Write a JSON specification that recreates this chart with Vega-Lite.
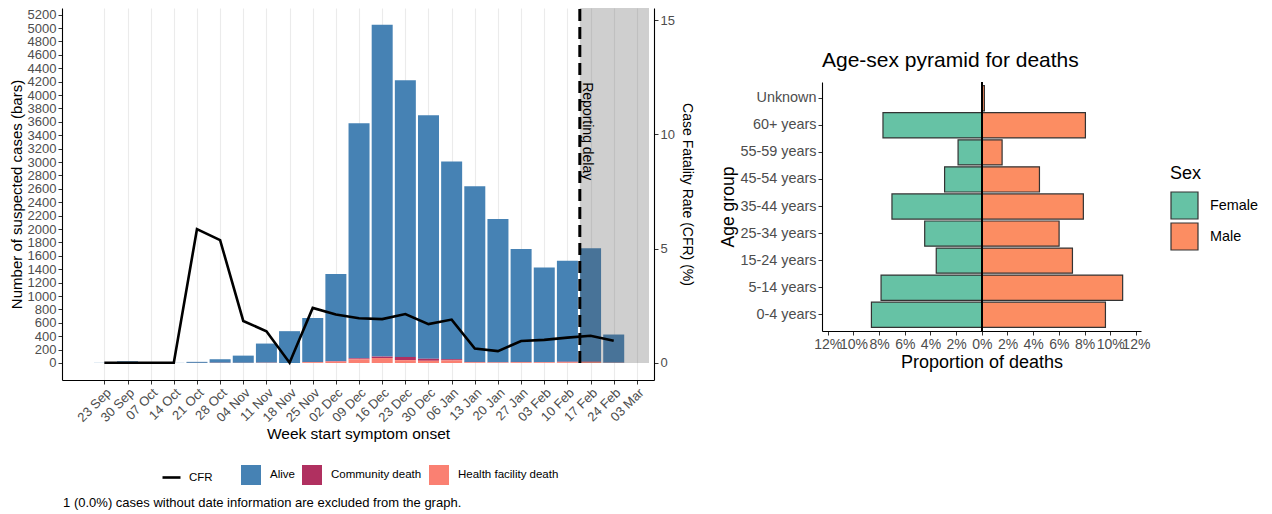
{
  "$schema": "https://vega.github.io/schema/vega-lite/v6.json",
  "padding": {"left": 9, "top": 6, "right": 5, "bottom": 3},
  "config": {
    "font": "Liberation Sans",
    "view": {"stroke": null},
    "axis": {"domainColor": "#000000", "domainWidth": 1.1, "tickColor": "#333333", "tickSize": 4, "labelColor": "#4d4d4d", "labelPadding": 2, "titleColor": "#000000", "titleFontWeight": "normal", "labelFlush": false, "labelOverlap": false, "grid": false},
    "legend": {"padding": 0, "labelColor": "#000000", "titleColor": "#000000", "titleFontWeight": "normal"}
  },
  "title": {"text": "1 (0.0%) cases without date information are excluded from the graph.", "orient": "bottom", "anchor": "start", "fontSize": 13, "fontWeight": "normal", "color": "#000000", "offset": 12, "dx": 54},
  "resolve": {"scale": {"color": "independent"}, "legend": {"color": "independent"}},
  "datasets": {
    "cases": [
      {"week": "2024-09-23", "outcome": "Alive", "n": 2},
      {"week": "2024-09-30", "outcome": "Alive", "n": 25},
      {"week": "2024-10-07", "outcome": "Alive", "n": 1},
      {"week": "2024-10-14", "outcome": "Alive", "n": 2},
      {"week": "2024-10-21", "outcome": "Alive", "n": 16},
      {"week": "2024-10-21", "outcome": "Health facility death", "n": 1},
      {"week": "2024-10-28", "outcome": "Alive", "n": 53},
      {"week": "2024-10-28", "outcome": "Community death", "n": 1},
      {"week": "2024-10-28", "outcome": "Health facility death", "n": 2},
      {"week": "2024-11-04", "outcome": "Alive", "n": 108},
      {"week": "2024-11-04", "outcome": "Health facility death", "n": 2},
      {"week": "2024-11-11", "outcome": "Alive", "n": 286},
      {"week": "2024-11-11", "outcome": "Community death", "n": 1},
      {"week": "2024-11-11", "outcome": "Health facility death", "n": 3},
      {"week": "2024-11-18", "outcome": "Alive", "n": 475},
      {"week": "2024-11-25", "outcome": "Alive", "n": 654},
      {"week": "2024-11-25", "outcome": "Community death", "n": 4},
      {"week": "2024-11-25", "outcome": "Health facility death", "n": 12},
      {"week": "2024-12-02", "outcome": "Alive", "n": 1302},
      {"week": "2024-12-02", "outcome": "Community death", "n": 8},
      {"week": "2024-12-02", "outcome": "Health facility death", "n": 20},
      {"week": "2024-12-09", "outcome": "Alive", "n": 3510},
      {"week": "2024-12-09", "outcome": "Community death", "n": 15},
      {"week": "2024-12-09", "outcome": "Health facility death", "n": 55},
      {"week": "2024-12-16", "outcome": "Alive", "n": 4954},
      {"week": "2024-12-16", "outcome": "Community death", "n": 22},
      {"week": "2024-12-16", "outcome": "Health facility death", "n": 74},
      {"week": "2024-12-23", "outcome": "Alive", "n": 4130},
      {"week": "2024-12-23", "outcome": "Community death", "n": 48},
      {"week": "2024-12-23", "outcome": "Health facility death", "n": 42},
      {"week": "2024-12-30", "outcome": "Alive", "n": 3637},
      {"week": "2024-12-30", "outcome": "Community death", "n": 30},
      {"week": "2024-12-30", "outcome": "Health facility death", "n": 33},
      {"week": "2025-01-06", "outcome": "Alive", "n": 2953},
      {"week": "2025-01-06", "outcome": "Community death", "n": 18},
      {"week": "2025-01-06", "outcome": "Health facility death", "n": 39},
      {"week": "2025-01-13", "outcome": "Alive", "n": 2624},
      {"week": "2025-01-13", "outcome": "Community death", "n": 6},
      {"week": "2025-01-13", "outcome": "Health facility death", "n": 10},
      {"week": "2025-01-20", "outcome": "Alive", "n": 2139},
      {"week": "2025-01-20", "outcome": "Community death", "n": 4},
      {"week": "2025-01-20", "outcome": "Health facility death", "n": 7},
      {"week": "2025-01-27", "outcome": "Alive", "n": 1684},
      {"week": "2025-01-27", "outcome": "Community death", "n": 5},
      {"week": "2025-01-27", "outcome": "Health facility death", "n": 11},
      {"week": "2025-02-03", "outcome": "Alive", "n": 1411},
      {"week": "2025-02-03", "outcome": "Community death", "n": 4},
      {"week": "2025-02-03", "outcome": "Health facility death", "n": 10},
      {"week": "2025-02-10", "outcome": "Alive", "n": 1508},
      {"week": "2025-02-10", "outcome": "Community death", "n": 5},
      {"week": "2025-02-10", "outcome": "Health facility death", "n": 12},
      {"week": "2025-02-17", "outcome": "Alive", "n": 1692},
      {"week": "2025-02-17", "outcome": "Community death", "n": 6},
      {"week": "2025-02-17", "outcome": "Health facility death", "n": 14},
      {"week": "2025-02-24", "outcome": "Alive", "n": 421},
      {"week": "2025-02-24", "outcome": "Community death", "n": 1},
      {"week": "2025-02-24", "outcome": "Health facility death", "n": 3}
    ],
    "cfr": [
      {"week": "2024-09-23", "cfr": 0},
      {"week": "2024-09-30", "cfr": 0},
      {"week": "2024-10-07", "cfr": 0},
      {"week": "2024-10-14", "cfr": 0},
      {"week": "2024-10-21", "cfr": 5.85},
      {"week": "2024-10-28", "cfr": 5.37},
      {"week": "2024-11-04", "cfr": 1.83},
      {"week": "2024-11-11", "cfr": 1.38},
      {"week": "2024-11-18", "cfr": 0},
      {"week": "2024-11-25", "cfr": 2.40},
      {"week": "2024-12-02", "cfr": 2.11},
      {"week": "2024-12-09", "cfr": 1.95},
      {"week": "2024-12-16", "cfr": 1.91},
      {"week": "2024-12-23", "cfr": 2.13},
      {"week": "2024-12-30", "cfr": 1.69},
      {"week": "2025-01-06", "cfr": 1.89},
      {"week": "2025-01-13", "cfr": 0.62},
      {"week": "2025-01-20", "cfr": 0.51},
      {"week": "2025-01-27", "cfr": 0.95},
      {"week": "2025-02-03", "cfr": 1.00},
      {"week": "2025-02-10", "cfr": 1.10},
      {"week": "2025-02-17", "cfr": 1.18},
      {"week": "2025-02-24", "cfr": 0.96}
    ],
    "pyramid": [
      {"age": "Unknown", "sex": "Female", "prop": 0},
      {"age": "Unknown", "sex": "Male", "prop": 0.2},
      {"age": "60+ years", "sex": "Female", "prop": -7.7},
      {"age": "60+ years", "sex": "Male", "prop": 8.07},
      {"age": "55-59 years", "sex": "Female", "prop": -1.85},
      {"age": "55-59 years", "sex": "Male", "prop": 1.58},
      {"age": "45-54 years", "sex": "Female", "prop": -2.9},
      {"age": "45-54 years", "sex": "Male", "prop": 4.49},
      {"age": "35-44 years", "sex": "Female", "prop": -7.0},
      {"age": "35-44 years", "sex": "Male", "prop": 7.91},
      {"age": "25-34 years", "sex": "Female", "prop": -4.45},
      {"age": "25-34 years", "sex": "Male", "prop": 6.02},
      {"age": "15-24 years", "sex": "Female", "prop": -3.55},
      {"age": "15-24 years", "sex": "Male", "prop": 7.06},
      {"age": "5-14 years", "sex": "Female", "prop": -7.85},
      {"age": "5-14 years", "sex": "Male", "prop": 10.97},
      {"age": "0-4 years", "sex": "Female", "prop": -8.6},
      {"age": "0-4 years", "sex": "Male", "prop": 9.63}
    ]
  },
  "spacing": 25,
  "hconcat": [
    {
      "width": 592,
      "height": 372,
      "layer": [
        {
          "layer": [
            {
              "data": {"name": "cases"},
              "mark": {"type": "bar", "size": 21},
              "encoding": {
                "x": {
                  "field": "week", "type": "temporal",
                  "scale": {"type": "utc", "domain": [{"year": 2024, "month": 9, "date": 11, "hours": 17, "utc": true}, {"year": 2025, "month": 3, "date": 6, "hours": 16, "utc": true}], "nice": false},
                  "axis": {
                    "values": [
                      {"year": 2024, "month": 9, "date": 23, "utc": true}, {"year": 2024, "month": 9, "date": 30, "utc": true}, {"year": 2024, "month": 10, "date": 7, "utc": true}, {"year": 2024, "month": 10, "date": 14, "utc": true}, {"year": 2024, "month": 10, "date": 21, "utc": true}, {"year": 2024, "month": 10, "date": 28, "utc": true}, {"year": 2024, "month": 11, "date": 4, "utc": true}, {"year": 2024, "month": 11, "date": 11, "utc": true}, {"year": 2024, "month": 11, "date": 18, "utc": true}, {"year": 2024, "month": 11, "date": 25, "utc": true}, {"year": 2024, "month": 12, "date": 2, "utc": true}, {"year": 2024, "month": 12, "date": 9, "utc": true}, {"year": 2024, "month": 12, "date": 16, "utc": true}, {"year": 2024, "month": 12, "date": 23, "utc": true}, {"year": 2024, "month": 12, "date": 30, "utc": true}, {"year": 2025, "month": 1, "date": 6, "utc": true}, {"year": 2025, "month": 1, "date": 13, "utc": true}, {"year": 2025, "month": 1, "date": 20, "utc": true}, {"year": 2025, "month": 1, "date": 27, "utc": true}, {"year": 2025, "month": 2, "date": 3, "utc": true}, {"year": 2025, "month": 2, "date": 10, "utc": true}, {"year": 2025, "month": 2, "date": 17, "utc": true}, {"year": 2025, "month": 2, "date": 24, "utc": true}, {"year": 2025, "month": 3, "date": 3, "utc": true}
                    ],
                    "labelExpr": "utcFormat(datum.value, '%d %b')",
                    "labelAngle": -45, "labelAlign": "right", "labelBaseline": "top", "labelFontSize": 13,
                    "grid": true, "gridColor": "#ebebeb", "gridWidth": 1.1,
                    "title": "Week start symptom onset", "titleFontSize": 15.5, "titlePadding": 2
                  }
                },
                "y": {
                  "field": "n", "type": "quantitative", "stack": "zero",
                  "scale": {"domain": [-254, 5300], "nice": false, "zero": false},
                  "axis": {
                    "values": [0, 200, 400, 600, 800, 1000, 1200, 1400, 1600, 1800, 2000, 2200, 2400, 2600, 2800, 3000, 3200, 3400, 3600, 3800, 4000, 4200, 4400, 4600, 4800, 5000, 5200],
                    "format": "d", "labelFontSize": 13, "title": "Number of suspected cases (bars)", "titleFontSize": 15, "titlePadding": 3
                  }
                },
                "color": {
                  "field": "outcome", "type": "nominal",
                  "scale": {"domain": ["Alive", "Community death", "Health facility death"], "range": ["#4682B4", "#B03060", "#FA8072"]},
                  "legend": {"orient": "none", "legendX": 179, "legendY": 457, "direction": "horizontal", "title": null, "symbolType": "square", "symbolSize": 400, "symbolStrokeWidth": 0, "labelFontSize": 11.5, "labelOffset": 9, "columnPadding": 7}
                },
                "order": {"field": "outcome", "sort": "descending"}
              }
            },
            {
              "data": {"values": [{}]},
              "mark": {"type": "rect", "color": "#4f4f4f", "opacity": 0.27},
              "encoding": {
                "x": {"datum": {"year": 2025, "month": 2, "date": 13, "hours": 18, "utc": true}, "type": "temporal",
                  "axis": {
                    "values": [
                      {"year": 2024, "month": 9, "date": 23, "utc": true}, {"year": 2024, "month": 9, "date": 30, "utc": true}, {"year": 2024, "month": 10, "date": 7, "utc": true}, {"year": 2024, "month": 10, "date": 14, "utc": true}, {"year": 2024, "month": 10, "date": 21, "utc": true}, {"year": 2024, "month": 10, "date": 28, "utc": true}, {"year": 2024, "month": 11, "date": 4, "utc": true}, {"year": 2024, "month": 11, "date": 11, "utc": true}, {"year": 2024, "month": 11, "date": 18, "utc": true}, {"year": 2024, "month": 11, "date": 25, "utc": true}, {"year": 2024, "month": 12, "date": 2, "utc": true}, {"year": 2024, "month": 12, "date": 9, "utc": true}, {"year": 2024, "month": 12, "date": 16, "utc": true}, {"year": 2024, "month": 12, "date": 23, "utc": true}, {"year": 2024, "month": 12, "date": 30, "utc": true}, {"year": 2025, "month": 1, "date": 6, "utc": true}, {"year": 2025, "month": 1, "date": 13, "utc": true}, {"year": 2025, "month": 1, "date": 20, "utc": true}, {"year": 2025, "month": 1, "date": 27, "utc": true}, {"year": 2025, "month": 2, "date": 3, "utc": true}, {"year": 2025, "month": 2, "date": 10, "utc": true}, {"year": 2025, "month": 2, "date": 17, "utc": true}, {"year": 2025, "month": 2, "date": 24, "utc": true}, {"year": 2025, "month": 3, "date": 3, "utc": true}
                    ],
                    "labelExpr": "utcFormat(datum.value, '%d %b')",
                    "labelAngle": -45, "labelAlign": "right", "labelBaseline": "top", "labelFontSize": 13,
                    "grid": true, "gridColor": "#ebebeb", "gridWidth": 1.1,
                    "title": "Week start symptom onset", "titleFontSize": 15.5, "titlePadding": 2
                  }
                },
                "x2": {"datum": {"year": 2025, "month": 3, "date": 6, "hours": 16, "utc": true}},
                "y": {"datum": 0, "type": "quantitative",
                  "axis": {
                    "values": [0, 200, 400, 600, 800, 1000, 1200, 1400, 1600, 1800, 2000, 2200, 2400, 2600, 2800, 3000, 3200, 3400, 3600, 3800, 4000, 4200, 4400, 4600, 4800, 5000, 5200],
                    "format": "d", "labelFontSize": 13, "title": "Number of suspected cases (bars)", "titleFontSize": 15, "titlePadding": 3
                  }
                },
                "y2": {"datum": 5300}
              }
            },
            {
              "data": {"values": [{}]},
              "mark": {"type": "rule", "color": "#000000", "strokeWidth": 3, "strokeDash": [12, 6]},
              "encoding": {
                "x": {"datum": {"year": 2025, "month": 2, "date": 13, "hours": 18, "utc": true}, "type": "temporal",
                  "axis": {
                    "values": [
                      {"year": 2024, "month": 9, "date": 23, "utc": true}, {"year": 2024, "month": 9, "date": 30, "utc": true}, {"year": 2024, "month": 10, "date": 7, "utc": true}, {"year": 2024, "month": 10, "date": 14, "utc": true}, {"year": 2024, "month": 10, "date": 21, "utc": true}, {"year": 2024, "month": 10, "date": 28, "utc": true}, {"year": 2024, "month": 11, "date": 4, "utc": true}, {"year": 2024, "month": 11, "date": 11, "utc": true}, {"year": 2024, "month": 11, "date": 18, "utc": true}, {"year": 2024, "month": 11, "date": 25, "utc": true}, {"year": 2024, "month": 12, "date": 2, "utc": true}, {"year": 2024, "month": 12, "date": 9, "utc": true}, {"year": 2024, "month": 12, "date": 16, "utc": true}, {"year": 2024, "month": 12, "date": 23, "utc": true}, {"year": 2024, "month": 12, "date": 30, "utc": true}, {"year": 2025, "month": 1, "date": 6, "utc": true}, {"year": 2025, "month": 1, "date": 13, "utc": true}, {"year": 2025, "month": 1, "date": 20, "utc": true}, {"year": 2025, "month": 1, "date": 27, "utc": true}, {"year": 2025, "month": 2, "date": 3, "utc": true}, {"year": 2025, "month": 2, "date": 10, "utc": true}, {"year": 2025, "month": 2, "date": 17, "utc": true}, {"year": 2025, "month": 2, "date": 24, "utc": true}, {"year": 2025, "month": 3, "date": 3, "utc": true}
                    ],
                    "labelExpr": "utcFormat(datum.value, '%d %b')",
                    "labelAngle": -45, "labelAlign": "right", "labelBaseline": "top", "labelFontSize": 13,
                    "grid": true, "gridColor": "#ebebeb", "gridWidth": 1.1,
                    "title": "Week start symptom onset", "titleFontSize": 15.5, "titlePadding": 2
                  }
                },
                "y": {"datum": 0, "type": "quantitative",
                  "axis": {
                    "values": [0, 200, 400, 600, 800, 1000, 1200, 1400, 1600, 1800, 2000, 2200, 2400, 2600, 2800, 3000, 3200, 3400, 3600, 3800, 4000, 4200, 4400, 4600, 4800, 5000, 5200],
                    "format": "d", "labelFontSize": 13, "title": "Number of suspected cases (bars)", "titleFontSize": 15, "titlePadding": 3
                  }
                },
                "y2": {"datum": 5300}
              }
            },
            {
              "data": {"values": [{}]},
              "mark": {"type": "text", "text": "Reporting delay", "angle": 90, "align": "center", "baseline": "bottom", "fontSize": 14, "color": "#000000"},
              "encoding": {
                "x": {"datum": {"year": 2025, "month": 2, "date": 13, "hours": 18, "utc": true}, "type": "temporal",
                  "axis": {
                    "values": [
                      {"year": 2024, "month": 9, "date": 23, "utc": true}, {"year": 2024, "month": 9, "date": 30, "utc": true}, {"year": 2024, "month": 10, "date": 7, "utc": true}, {"year": 2024, "month": 10, "date": 14, "utc": true}, {"year": 2024, "month": 10, "date": 21, "utc": true}, {"year": 2024, "month": 10, "date": 28, "utc": true}, {"year": 2024, "month": 11, "date": 4, "utc": true}, {"year": 2024, "month": 11, "date": 11, "utc": true}, {"year": 2024, "month": 11, "date": 18, "utc": true}, {"year": 2024, "month": 11, "date": 25, "utc": true}, {"year": 2024, "month": 12, "date": 2, "utc": true}, {"year": 2024, "month": 12, "date": 9, "utc": true}, {"year": 2024, "month": 12, "date": 16, "utc": true}, {"year": 2024, "month": 12, "date": 23, "utc": true}, {"year": 2024, "month": 12, "date": 30, "utc": true}, {"year": 2025, "month": 1, "date": 6, "utc": true}, {"year": 2025, "month": 1, "date": 13, "utc": true}, {"year": 2025, "month": 1, "date": 20, "utc": true}, {"year": 2025, "month": 1, "date": 27, "utc": true}, {"year": 2025, "month": 2, "date": 3, "utc": true}, {"year": 2025, "month": 2, "date": 10, "utc": true}, {"year": 2025, "month": 2, "date": 17, "utc": true}, {"year": 2025, "month": 2, "date": 24, "utc": true}, {"year": 2025, "month": 3, "date": 3, "utc": true}
                    ],
                    "labelExpr": "utcFormat(datum.value, '%d %b')",
                    "labelAngle": -45, "labelAlign": "right", "labelBaseline": "top", "labelFontSize": 13,
                    "grid": true, "gridColor": "#ebebeb", "gridWidth": 1.1,
                    "title": "Week start symptom onset", "titleFontSize": 15.5, "titlePadding": 2
                  }
                },
                "y": {"datum": 3460, "type": "quantitative",
                  "axis": {
                    "values": [0, 200, 400, 600, 800, 1000, 1200, 1400, 1600, 1800, 2000, 2200, 2400, 2600, 2800, 3000, 3200, 3400, 3600, 3800, 4000, 4200, 4400, 4600, 4800, 5000, 5200],
                    "format": "d", "labelFontSize": 13, "title": "Number of suspected cases (bars)", "titleFontSize": 15, "titlePadding": 3
                  }
                }
              }
            }
          ]
        },
        {
          "data": {"name": "cfr"},
          "mark": {"type": "line", "strokeWidth": 2.6},
          "encoding": {
            "x": {"field": "week", "type": "temporal",
              "axis": {
                "values": [
                  {"year": 2024, "month": 9, "date": 23, "utc": true}, {"year": 2024, "month": 9, "date": 30, "utc": true}, {"year": 2024, "month": 10, "date": 7, "utc": true}, {"year": 2024, "month": 10, "date": 14, "utc": true}, {"year": 2024, "month": 10, "date": 21, "utc": true}, {"year": 2024, "month": 10, "date": 28, "utc": true}, {"year": 2024, "month": 11, "date": 4, "utc": true}, {"year": 2024, "month": 11, "date": 11, "utc": true}, {"year": 2024, "month": 11, "date": 18, "utc": true}, {"year": 2024, "month": 11, "date": 25, "utc": true}, {"year": 2024, "month": 12, "date": 2, "utc": true}, {"year": 2024, "month": 12, "date": 9, "utc": true}, {"year": 2024, "month": 12, "date": 16, "utc": true}, {"year": 2024, "month": 12, "date": 23, "utc": true}, {"year": 2024, "month": 12, "date": 30, "utc": true}, {"year": 2025, "month": 1, "date": 6, "utc": true}, {"year": 2025, "month": 1, "date": 13, "utc": true}, {"year": 2025, "month": 1, "date": 20, "utc": true}, {"year": 2025, "month": 1, "date": 27, "utc": true}, {"year": 2025, "month": 2, "date": 3, "utc": true}, {"year": 2025, "month": 2, "date": 10, "utc": true}, {"year": 2025, "month": 2, "date": 17, "utc": true}, {"year": 2025, "month": 2, "date": 24, "utc": true}, {"year": 2025, "month": 3, "date": 3, "utc": true}
                ],
                "labelExpr": "utcFormat(datum.value, '%d %b')",
                "labelAngle": -45, "labelAlign": "right", "labelBaseline": "top", "labelFontSize": 13,
                "grid": true, "gridColor": "#ebebeb", "gridWidth": 1.1,
                "title": "Week start symptom onset", "titleFontSize": 15.5, "titlePadding": 2
              }
            },
            "y": {
              "field": "cfr", "type": "quantitative",
              "scale": {"domain": [-0.757, 15.54], "nice": false, "zero": false},
              "axis": {"orient": "right", "values": [0, 5, 10, 15], "labelFontSize": 13, "title": "Case Fatality Rate (CFR) (%)", "titleFontSize": 14, "titlePadding": 5}
            },
            "stroke": {
              "datum": "CFR",
              "scale": {"domain": ["CFR"], "range": ["#000000"]},
              "legend": {"orient": "none", "legendX": 99, "legendY": 459, "title": null, "symbolType": "stroke", "symbolSize": 324, "symbolStrokeWidth": 2.6, "labelFontSize": 11.5, "labelOffset": 7}
            }
          }
        }
      ],
      "resolve": {"scale": {"y": "independent"}}
    },
    {
      "spacing": 0,
      "vconcat": [
        {
          "width": 319,
          "height": 42,
          "data": {"values": []},
          "mark": "point",
          "encoding": {}
        },
        {
          "width": 319,
          "height": 249,
          "title": {"text": "Age-sex pyramid for deaths", "anchor": "start", "frame": "group", "fontSize": 21, "fontWeight": "normal", "color": "#000000", "offset": 10},
          "data": {"name": "pyramid"},
          "layer": [
            {
              "mark": {"type": "bar", "stroke": "#333333", "strokeWidth": 1.2},
              "encoding": {
                "y": {
                  "field": "age", "type": "nominal",
                  "sort": ["Unknown", "60+ years", "55-59 years", "45-54 years", "35-44 years", "25-34 years", "15-24 years", "5-14 years", "0-4 years"],
                  "scale": {"paddingInner": 0.07, "paddingOuter": 0.135},
                  "axis": {"labelFontSize": 14.4, "title": "Age group", "titleFontSize": 17.5, "titlePadding": 3}
                },
                "x": {
                  "field": "prop", "type": "quantitative", "stack": null,
                  "scale": {"domain": [-12.45, 12.4], "nice": false, "zero": false},
                  "axis": {"values": [-12, -10, -8, -6, -4, -2, 0, 2, 4, 6, 8, 10, 12], "labelExpr": "abs(datum.value) + '%'", "labelFontSize": 14, "title": "Proportion of deaths", "titleFontSize": 18, "titlePadding": 2}
                },
                "color": {
                  "field": "sex", "type": "nominal",
                  "scale": {"domain": ["Female", "Male"], "range": ["#66C2A5", "#FC8D62"]},
                  "legend": {"orient": "none", "legendX": 348, "legendY": 157, "title": "Sex", "titleFontSize": 18, "titlePadding": 8, "symbolType": "square", "symbolSize": 729, "symbolStrokeColor": "#333333", "symbolStrokeWidth": 1.2, "labelFontSize": 14.4, "labelOffset": 11, "rowPadding": -6}
                }
              }
            },
            {
              "mark": {"type": "rule", "color": "#000000", "strokeWidth": 1.3},
              "encoding": {"x": {"datum": 0, "type": "quantitative",
                "axis": {"values": [-12, -10, -8, -6, -4, -2, 0, 2, 4, 6, 8, 10, 12], "labelExpr": "abs(datum.value) + '%'", "labelFontSize": 14, "title": "Proportion of deaths", "titleFontSize": 18, "titlePadding": 2}}}
            }
          ]
        }
      ]
    }
  ]
}
